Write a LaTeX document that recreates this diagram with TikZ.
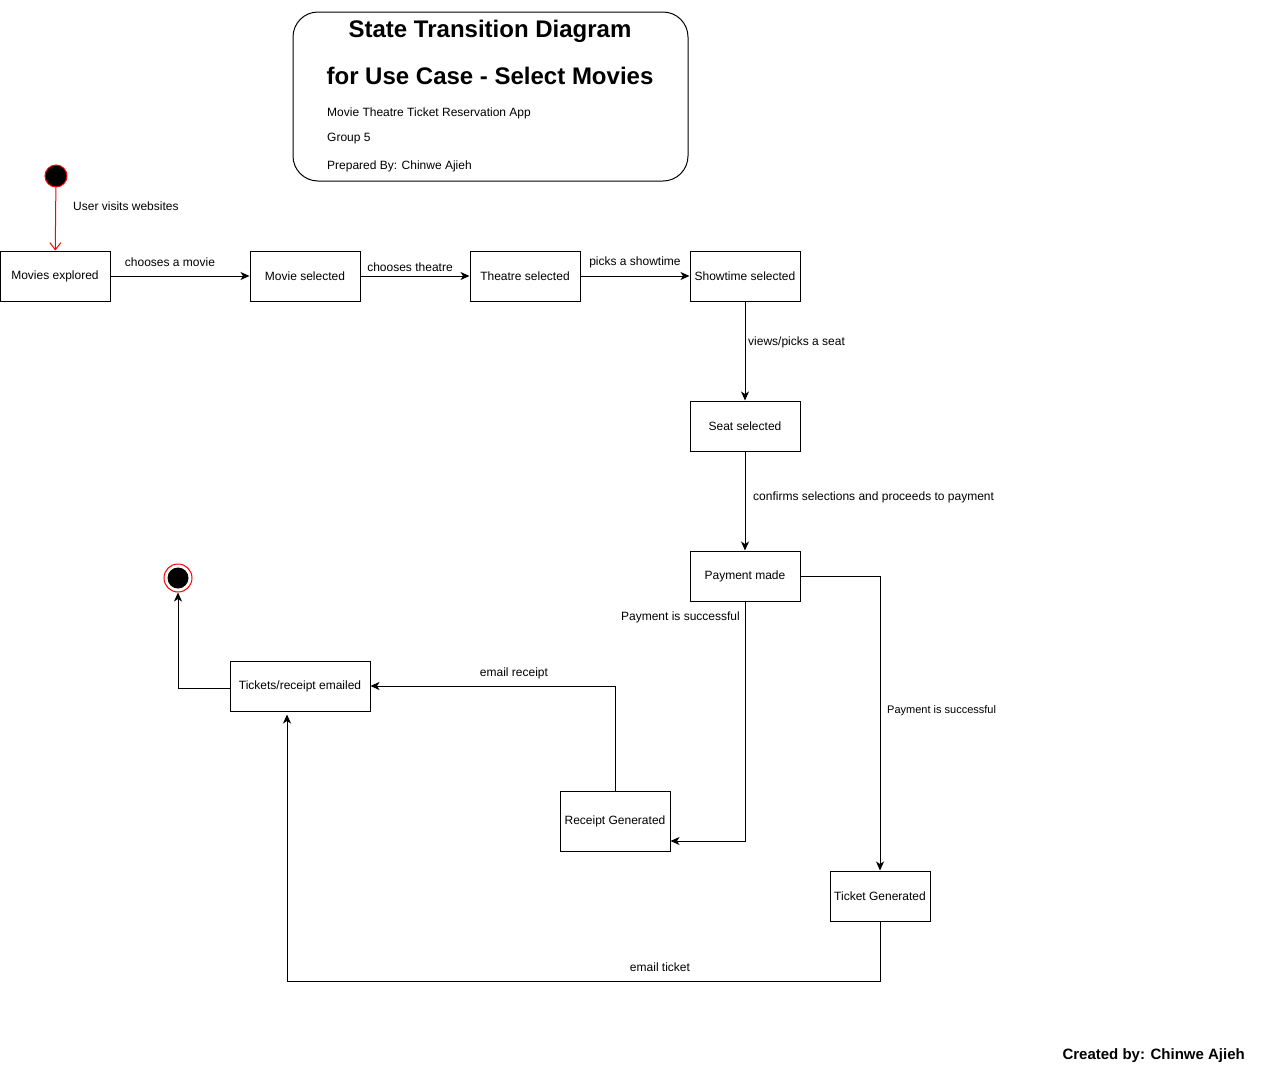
\documentclass[tikz,border=0pt]{standalone}
\usepackage{fontspec}
\setmainfont{Liberation Sans}
\usetikzlibrary{arrows.meta,positioning,calc}
\newcommand{\lbl}{\fontsize{12}{14}\selectfont}
\newcommand{\lbs}{\fontsize{11}{13}\selectfont}
\tikzset{
  statebox/.style={draw, line width=1pt, minimum width=110pt, minimum height=50pt, inner sep=0pt, font=\lbl},
  arr/.style={draw, line width=1pt, -{Stealth[length=9pt,width=8pt,inset=2.5pt]}},
  lab/.style={font=\lbl, inner sep=0pt},
  labs/.style={font=\lbs, inner sep=0pt},
}
\begin{document}
\begin{tikzpicture}[x=1pt,y=-1pt]
\useasboundingbox (0,0) rectangle (1264,1082);
% title box
\node[draw, line width=1pt, rounded corners=25pt, minimum width=395pt, minimum height=169pt, inner sep=0pt] (title) at (490.5,96.5) {};
\node[font=\fontsize{24}{28}\selectfont\bfseries, inner sep=0pt] (t1) at (490,31) {State Transition Diagram};
\node[font=\fontsize{24}{28}\selectfont\bfseries, inner sep=0pt] (t2) at (490,76) {for Use Case - Select Movies};
\node[lab, anchor=west] (t3) at (327,113) {Movie Theatre Ticket Reservation App};
\node[lab, anchor=west] (t4) at (327,139) {Group 5};
\node[lab, anchor=west] (t5) at (327,166) {Prepared By: Chinwe Ajieh};
% initial and final
\node[circle, fill=black, draw=red, line width=1pt, minimum size=22pt, inner sep=0pt] (init) at (56,176) {};
\node[circle, fill=white, draw=red, line width=1pt, minimum size=28pt, inner sep=0pt] (fin) at (178,578) {};
\fill[black] (fin.center) circle (10.5pt);
% states
\node[statebox] (mex) at (55,276) {\raisebox{-1pt}{Movies explored}};
\node[statebox] (msel) at (305,276) {\raisebox{-1pt}{Movie selected}};
\node[statebox] (tsel) at (525,276) {\raisebox{-1pt}{Theatre selected}};
\node[statebox] (ssel) at (745,276) {\raisebox{-1pt}{Showtime selected}};
\node[statebox] (seat) at (745,426) {\raisebox{-1pt}{Seat selected}};
\node[statebox] (pay) at (745,576) {\raisebox{-1pt}{Payment made}};
\node[statebox, minimum height=60pt] (rec) at (615,821) {\raisebox{-1pt}{Receipt Generated}};
\node[statebox, minimum width=100pt] (tick) at (880,896) {\raisebox{-1pt}{Ticket Generated}};
\node[statebox, minimum width=140pt] (em) at (300,686) {\raisebox{-1pt}{Tickets/receipt emailed}};
% transitions
\draw[line width=1pt, red, -{Straight Barb[length=7pt,width=11pt]}] (init) -- (mex);
\node[lab, anchor=west] (l0) at (73,206) {User visits websites};
\draw[arr] (mex) -- (msel);
\node[lab] (l1) at (170,262) {chooses a movie};
\draw[arr] (msel) -- (tsel);
\node[lab] (l2) at (410,267) {chooses theatre};
\draw[arr] (tsel) -- (ssel);
\node[lab] (l3) at (635,262) {picks a showtime};
\draw[arr] (ssel) -- (seat);
\node[lab, anchor=west] (l4) at (748,342) {views/picks a seat};
\draw[arr] (seat) -- (pay);
\node[lab, anchor=west] (l5) at (753,497) {confirms selections and proceeds to payment};
\draw[arr] (pay.south) |- ([yshift=-20pt]rec.east);
\node[lab, anchor=east] (l6) at (740,617) {Payment is successful};
\draw[arr] (pay.east) -| (tick.north);
\node[labs, anchor=west] (l7) at (887,711) {Payment is successful};
\draw[arr] (rec.north) |- (em.east);
\node[lab] (l8) at (514,673) {email receipt};
\draw[arr] (tick.south) -- ++(0,60) -| ([xshift=-13pt,yshift=-3pt]em.south);
\node[lab] (l9) at (660,967) {email ticket};
\draw[arr] ([yshift=-2pt]em.west) -| (fin.south);
% footer
\node[font=\fontsize{15}{18}\selectfont\bfseries, inner sep=0pt, anchor=east] (cb) at (1245,1056) {Created by: Chinwe Ajieh};
\end{tikzpicture}
\end{document}
